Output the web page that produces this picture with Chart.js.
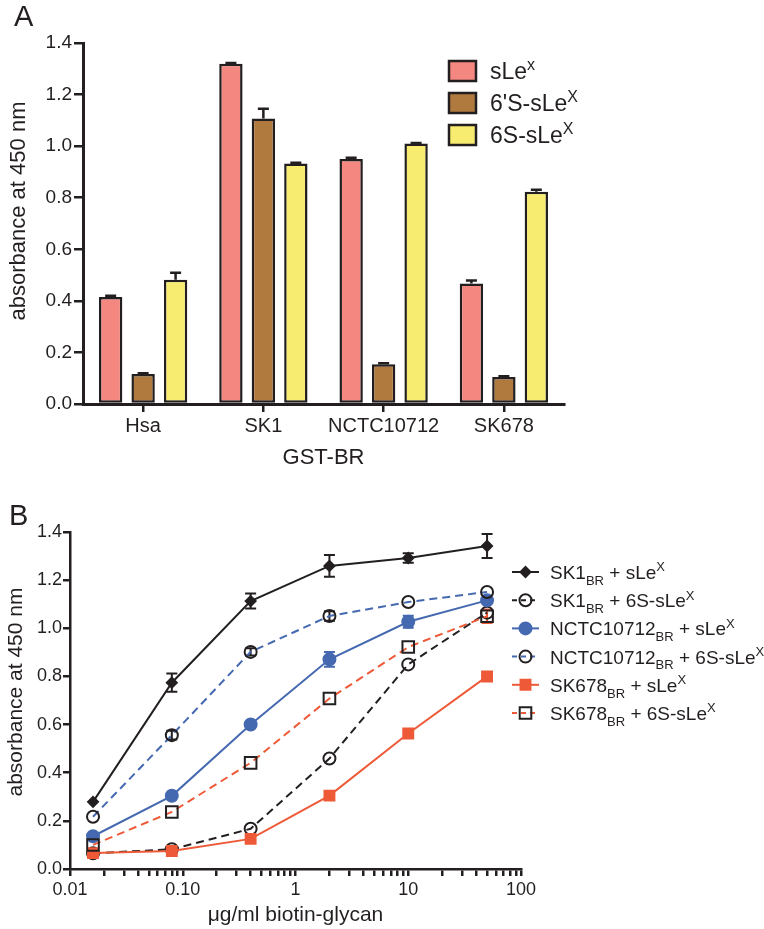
<!DOCTYPE html>
<html>
<head>
<meta charset="utf-8">
<script src="https://cdn.jsdelivr.net/npm/chart.js@4/dist/chart.umd.min.js"></script>
<style>
  html, body { margin: 0; padding: 0; background: #fff; }
  #wrap { position: relative; width: 764px; height: 929px; overflow: hidden; }
  canvas { position: absolute; left: 0; }
  #chartA { top: 0; }
  #chartB { top: 480px; }
</style>
</head>
<body>
<div id="wrap">
  <canvas id="chartA" width="764" height="480"></canvas>
  <canvas id="chartB" width="764" height="449"></canvas>
</div>
<script>
'use strict';

const FONT = "'Liberation Sans', Arial, Helvetica, sans-serif";
const INK = '#231f20';

/* ---- panel A data ---- */
const strains = ['Hsa', 'SK1', 'NCTC10712', 'SK678'];
const sLeX = [0.415, 1.32, 0.95, 0.467];
const sLeXErr = [0.005, 0.002, 0.005, 0.012];
const s6pSLeX = [0.116, 1.107, 0.154, 0.105];
const s6pSLeXErr = [0.003, 0.038, 0.004, 0.003];
const s6SLeX = [0.482, 0.933, 1.01, 0.823];
const s6SLeXErr = [0.027, 0.003, 0.002, 0.008];
const glycanLabels = [['sLe', 'x'], ['6\'S-sLe', 'X'], ['6S-sLe', 'X']];
const barColors = ['#f4877f', '#b07a3f', '#f8ec70'];
const errA = [sLeXErr, s6pSLeXErr, s6SLeXErr];

/* ---- panel B data ---- */
const doses = [0.016, 0.08, 0.4, 2, 10, 50];
const sk1SLeX = [0.279, 0.774, 1.113, 1.259, 1.292, 1.342];
const sk1SLeXErr = [0, 0.038, 0.031, 0.045, 0.02, 0.05];
const sk1S6 = [0.065, 0.082, 0.167, 0.459, 0.85, 1.065];
const sk1S6Err = [0, 0, 0, 0, 0, 0];
const nctcSLeX = [0.136, 0.304, 0.6, 0.871, 1.027, 1.116];
const nctcSLeXErr = [0, 0, 0, 0.031, 0.025, 0];
const nctcS6 = [0.217, 0.556, 0.902, 1.051, 1.109, 1.151];
const nctcS6Err = [0, 0.018, 0.015, 0.02, 0, 0];
const sk678SLeX = [0.066, 0.075, 0.125, 0.305, 0.563, 0.80];
const sk678SLeXErr = [0, 0, 0, 0, 0, 0];
const sk678S6 = [0.10, 0.237, 0.441, 0.708, 0.922, 1.05];
const sk678S6Err = [0, 0, 0, 0, 0, 0.028];
const decades = [0.01, 0.1, 1, 10, 100];
const xTickLabels = ['0.01', '0.10', '1', '10', '100'];
const seriesNames = [
  ['SK1', 'BR', ' + sLe', 'X'],
  ['SK1', 'BR', ' + 6S-sLe', 'X'],
  ['NCTC10712', 'BR', ' + sLe', 'X'],
  ['NCTC10712', 'BR', ' + 6S-sLe', 'X'],
  ['SK678', 'BR', ' + sLe', 'X'],
  ['SK678', 'BR', ' + 6S-sLe', 'X'],
];
const BLUE = '#4569b0';
const RED = '#ee5a38';

// text run: normal, subscript, normal, superscript
function drawRich(ctx, parts, x, y, size) {
  const kinds = ['', 'sub', '', 'sup'];
  ctx.textAlign = 'left';
  ctx.textBaseline = 'alphabetic';
  parts.forEach((t, i) => {
    const k = kinds[i];
    const s = k ? Math.round(size * 0.68) : size;
    const dy = k === 'sub' ? size * 0.3 : k === 'sup' ? -size * 0.4 : 0;
    ctx.font = s + 'px ' + FONT;
    ctx.fillText(t, x, y + dy);
    x += ctx.measureText(t).width;
  });
}

function drawMarker(ctx, style, r, x, y) {
  ctx.beginPath();
  if (style === 'circle') {
    ctx.arc(x, y, r, 0, Math.PI * 2);
  } else if (style === 'rect') {
    const h = r * Math.SQRT1_2;
    ctx.rect(x - h, y - h, 2 * h, 2 * h);
  } else {
    ctx.moveTo(x, y - r); ctx.lineTo(x + r, y); ctx.lineTo(x, y + r); ctx.lineTo(x - r, y);
    ctx.closePath();
  }
  ctx.fill();
  ctx.stroke();
}

// panel letter and the rotated y title (sits a little above the plot centre, as in the figure)
const panelText = {
  id: 'panelText',
  afterDraw(chart, args, opts) {
    const ctx = chart.ctx;
    ctx.save();
    ctx.fillStyle = INK;
    ctx.font = '29px ' + FONT;
    ctx.textBaseline = 'alphabetic';
    ctx.textAlign = 'left';
    ctx.fillText(opts.letter, opts.lx, opts.ly);
    ctx.translate(opts.tx, opts.ty);
    ctx.rotate(-Math.PI / 2);
    ctx.font = opts.tsize + 'px ' + FONT;
    ctx.textAlign = 'center';
    ctx.textBaseline = 'middle';
    ctx.fillText(opts.title, 0, 0);
    ctx.restore();
  }
};

/* ---- panel A ---- */
const barErrors = {
  id: 'barErrors',
  afterDatasetsDraw(chart) {
    const ctx = chart.ctx;
    const y = chart.scales.y;
    chart.data.datasets.forEach((ds, i) => {
      const meta = chart.getDatasetMeta(i);
      ctx.save();
      ctx.strokeStyle = INK;
      ctx.lineWidth = 2.5;
      meta.data.forEach((bar, j) => {
        const top = y.getPixelForValue(ds.data[j] + errA[i][j]);
        ctx.beginPath();
        ctx.moveTo(bar.x, bar.y);
        ctx.lineTo(bar.x, top);
        ctx.moveTo(bar.x - 5.5, top);
        ctx.lineTo(bar.x + 5.5, top);
        ctx.stroke();
      });
      ctx.restore();
    });
  }
};

const legendA = {
  id: 'legendA',
  afterDraw(chart) {
    const ctx = chart.ctx;
    ctx.save();
    glycanLabels.forEach((lab, i) => {
      const cy = 71 + i * 32;
      ctx.fillStyle = barColors[i];
      ctx.strokeStyle = INK;
      ctx.lineWidth = 2.5;
      ctx.fillRect(449, cy - 10, 27, 20);
      ctx.strokeRect(449, cy - 10, 27, 20);
      ctx.fillStyle = INK;
      drawRich(ctx, [lab[0], '', '', lab[1]], 490, cy + 8, 23);
    });
    ctx.restore();
  }
};

new Chart(document.getElementById('chartA'), {
  type: 'bar',
  data: {
    labels: strains,
    datasets: [sLeX, s6pSLeX, s6SLeX].map((vals, i) => ({
      label: glycanLabels[i].join(''),
      data: vals,
      backgroundColor: barColors[i],
      borderColor: INK,
      borderWidth: 2.5,
      borderSkipped: false,
      categoryPercentage: 0.81,
      barPercentage: 0.72,
    })),
  },
  options: {
    responsive: false,
    animation: false,
    devicePixelRatio: 1,
    layout: { padding: { top: 43, right: 200, left: 0, bottom: 0 } },
    plugins: {
      legend: { display: false },
      tooltip: { enabled: false },
      panelText: { letter: 'A', lx: 14, ly: 26, title: 'absorbance at 450 nm', tx: 19, ty: 211, tsize: 22 },
    },
    scales: {
      x: {
        afterFit: (s) => { s.height = 76; },
        grid: { offset: false, drawOnChartArea: false, drawTicks: true, tickLength: 8, color: INK, lineWidth: 2.5 },
        border: { display: true, color: INK, width: 3 },
        ticks: { color: INK, font: { family: FONT, size: 20 }, padding: 2, maxRotation: 0 },
        title: { display: true, text: 'GST-BR', color: INK, font: { family: FONT, size: 22 }, padding: { top: 0, bottom: 9 } },
      },
      y: {
        min: 0,
        max: 1.4,
        afterFit: (s) => { s.width = 83; },
        grid: { drawOnChartArea: false, drawTicks: true, tickLength: 9, color: INK, lineWidth: 2.5 },
        border: { display: true, color: INK, width: 3 },
        ticks: { stepSize: 0.2, color: INK, font: { family: FONT, size: 19 }, padding: 2, callback: (v) => v.toFixed(1) },
      },
    },
  },
  plugins: [barErrors, legendA, panelText],
});

/* ---- panel B ---- */
const valsB = [sk1SLeX, sk1S6, nctcSLeX, nctcS6, sk678SLeX, sk678S6];
const errB = [sk1SLeXErr, sk1S6Err, nctcSLeXErr, nctcS6Err, sk678SLeXErr, sk678S6Err];
const styleB = [
  { line: INK, dash: [], point: 'rectRot', r: 5, fill: INK, edge: INK, err: INK },
  { line: INK, dash: [8, 5], point: 'circle', r: 6, fill: 'rgba(0,0,0,0)', edge: INK, err: INK },
  { line: BLUE, dash: [], point: 'circle', r: 6, fill: BLUE, edge: BLUE, err: BLUE },
  { line: BLUE, dash: [8, 5], point: 'circle', r: 6, fill: 'rgba(0,0,0,0)', edge: INK, err: INK },
  { line: RED, dash: [], point: 'rect', r: 7, fill: RED, edge: RED, err: RED },
  { line: RED, dash: [8, 5], point: 'rect', r: 8.2, fill: 'rgba(0,0,0,0)', edge: INK, err: RED },
];

const lineErrors = {
  id: 'lineErrors',
  beforeDatasetsDraw(chart) {
    const ctx = chart.ctx;
    const y = chart.scales.y;
    chart.data.datasets.forEach((ds, i) => {
      const meta = chart.getDatasetMeta(i);
      ctx.save();
      ctx.strokeStyle = styleB[i].err;
      ctx.lineWidth = 2;
      meta.data.forEach((pt, j) => {
        const e = errB[i][j];
        if (!e) return;
        const v = ds.data[j].y;
        const y0 = y.getPixelForValue(v - e);
        const y1 = y.getPixelForValue(v + e);
        ctx.beginPath();
        ctx.moveTo(pt.x, y0); ctx.lineTo(pt.x, y1);
        ctx.moveTo(pt.x - 5.5, y0); ctx.lineTo(pt.x + 5.5, y0);
        ctx.moveTo(pt.x - 5.5, y1); ctx.lineTo(pt.x + 5.5, y1);
        ctx.stroke();
      });
      ctx.restore();
    });
  }
};

const legendB = {
  id: 'legendB',
  afterDraw(chart) {
    const ctx = chart.ctx;
    ctx.save();
    seriesNames.forEach((name, i) => {
      const st = styleB[i];
      const cy = 92 + i * 28.2;
      ctx.strokeStyle = st.line;
      ctx.lineWidth = 2;
      ctx.setLineDash(st.dash.length ? [5, 4] : []);
      ctx.beginPath();
      ctx.moveTo(512, cy);
      ctx.lineTo(539, cy);
      ctx.stroke();
      ctx.setLineDash([]);
      ctx.fillStyle = st.fill;
      ctx.strokeStyle = st.edge;
      drawMarker(ctx, st.point, st.r, 525.5, cy);
      ctx.fillStyle = INK;
      drawRich(ctx, name, 550, cy + 7, 19);
    });
    ctx.restore();
  }
};

new Chart(document.getElementById('chartB'), {
  type: 'line',
  data: {
    datasets: valsB.map((vals, i) => ({
      label: seriesNames[i].join(''),
      data: doses.map((d, j) => ({ x: d, y: vals[j] })),
      order: -i,
      borderColor: styleB[i].line,
      borderWidth: 2,
      borderDash: styleB[i].dash,
      tension: 0,
      fill: false,
      pointStyle: styleB[i].point,
      pointRadius: styleB[i].r,
      pointBackgroundColor: styleB[i].fill,
      pointBorderColor: styleB[i].edge,
      pointBorderWidth: 2,
    })),
  },
  options: {
    responsive: false,
    animation: false,
    devicePixelRatio: 1,
    layout: { padding: { top: 52, right: 243, left: 0, bottom: 0 } },
    plugins: {
      legend: { display: false },
      tooltip: { enabled: false },
      panelText: { letter: 'B', lx: 9, ly: 45, title: 'absorbance at 450 nm', tx: 16, ty: 212, tsize: 21 },
    },
    scales: {
      x: {
        type: 'logarithmic',
        min: 0.01,
        max: 100,
        afterFit: (s) => { s.height = 60; },
        afterBuildTicks: (s) => {
          const ticks = [];
          decades.forEach((d, k) => {
            const last = k === decades.length - 1 ? 1 : 9;
            for (let m = 1; m <= last; m++) ticks.push({ value: d * m });
          });
          s.ticks = ticks;
        },
        grid: { drawOnChartArea: false, drawTicks: true, tickLength: 7, color: INK, lineWidth: 2.5 },
        border: { display: true, color: INK, width: 2.5 },
        ticks: {
          autoSkip: false,
          maxRotation: 0,
          color: INK,
          font: { family: FONT, size: 18 },
          padding: 3,
          callback: (v) => {
            const k = decades.findIndex((d) => Math.abs(d - v) < d * 1e-6);
            return k >= 0 ? xTickLabels[k] : '';
          },
        },
        title: { display: true, text: 'μg/ml biotin-glycan', color: INK, font: { family: FONT, size: 21 }, padding: { top: 0, bottom: 1 } },
      },
      y: {
        min: 0,
        max: 1.4,
        afterFit: (s) => { s.width = 70; },
        grid: { drawOnChartArea: false, drawTicks: true, tickLength: 7, color: INK, lineWidth: 2.5 },
        border: { display: true, color: INK, width: 2.5 },
        ticks: {
          stepSize: 0.1,
          color: INK,
          font: { family: FONT, size: 18 },
          padding: 1,
          callback: (v, i) => (i % 2 === 0 ? v.toFixed(1) : ''),
        },
      },
    },
  },
  plugins: [lineErrors, legendB, panelText],
});
</script>
</body>
</html>
